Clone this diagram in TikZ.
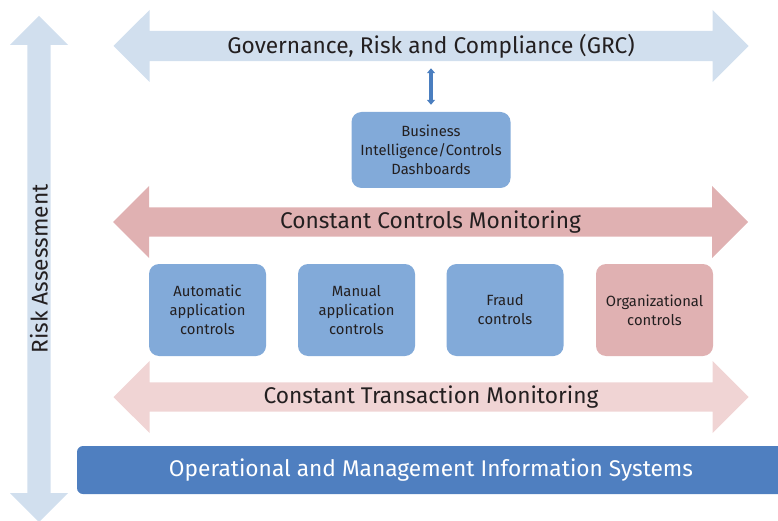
\documentclass[tikz,border=0pt]{standalone}
\usepackage{fontspec}
\setmainfont{Fira Sans}
\usetikzlibrary{shapes.arrows,arrows.meta}

\definecolor{paleblue}{HTML}{D1DFEE}
\definecolor{boxblue}{HTML}{82AAD9}
\definecolor{linkblue}{HTML}{4A7EBF}
\definecolor{rosepink}{HTML}{E0B1B2}
\definecolor{palepink}{HTML}{F0D4D4}
\definecolor{barblue}{HTML}{4F7FC0}
\definecolor{inkdark}{HTML}{231F20}

\begin{document}
\begin{tikzpicture}[
        x=1pt, y=-1pt,
        bigarrow/.style={double arrow, fill=#1, draw=none, double arrow head extend=17pt, minimum width=72pt, minimum height=635pt, inner sep=0pt, text=inkdark, font=\fontsize{22.7}{26}\selectfont},
        ctrlbox/.style={rectangle, rounded corners=10pt, fill=#1, minimum width=117pt, minimum height=92pt, align=center, text=inkdark, font=\fontsize{14.8}{19}\selectfont},
        sysbar/.style={rectangle, rounded corners=6pt, fill=barblue, minimum width=708pt, minimum height=48pt, text=white, font=\fontsize{22.7}{26}\selectfont},
        link/.style={{Triangle[width=8pt,length=5pt]}-{Triangle[width=8pt,length=5pt]}, line width=3.2pt, draw=linkblue, shorten <=7pt, shorten >=7pt}
    ]

        \useasboundingbox (0,0) rectangle (778,521);

        % Side arrow: risk assessment spans every layer
        \node[bigarrow=paleblue, rotate=90, minimum height=506pt, minimum width=58pt, double arrow head extend=13.5pt] (risk) at (39,269) {Risk Assessment};

        % GRC on top, linked down to the dashboards
        \node[bigarrow=paleblue] (grc) at (431,46) {Governance, Risk and Compliance (GRC)};
        \node[ctrlbox=boxblue, minimum width=159pt, minimum height=76pt] (dash) at (431,150) {Business\\Intelligence/Controls\\Dashboards};
        \draw[link] (dash) -- (grc);

        % Controls monitoring band
        \node[bigarrow=rosepink] (ccm) at (430.5,222) {Constant Controls Monitoring};

        % The four kinds of controls
        \node[ctrlbox=boxblue] (auto) at (207.5,310) {Automatic\\application\\controls};
        \node[ctrlbox=boxblue] (manual) at (356.5,310) {Manual\\application\\controls};
        \node[ctrlbox=boxblue] (fraud) at (505,310) {Fraud\\controls};
        \node[ctrlbox=rosepink] (org) at (654.5,310) {Organizational\\controls};

        % Transaction monitoring band
        \node[bigarrow=palepink] (ctm) at (431,397) {Constant Transaction Monitoring};

        % Systems layer at the bottom
        \node[sysbar] (omis) at (431,470) {Operational and Management Information Systems};

    \end{tikzpicture}
\end{document}
